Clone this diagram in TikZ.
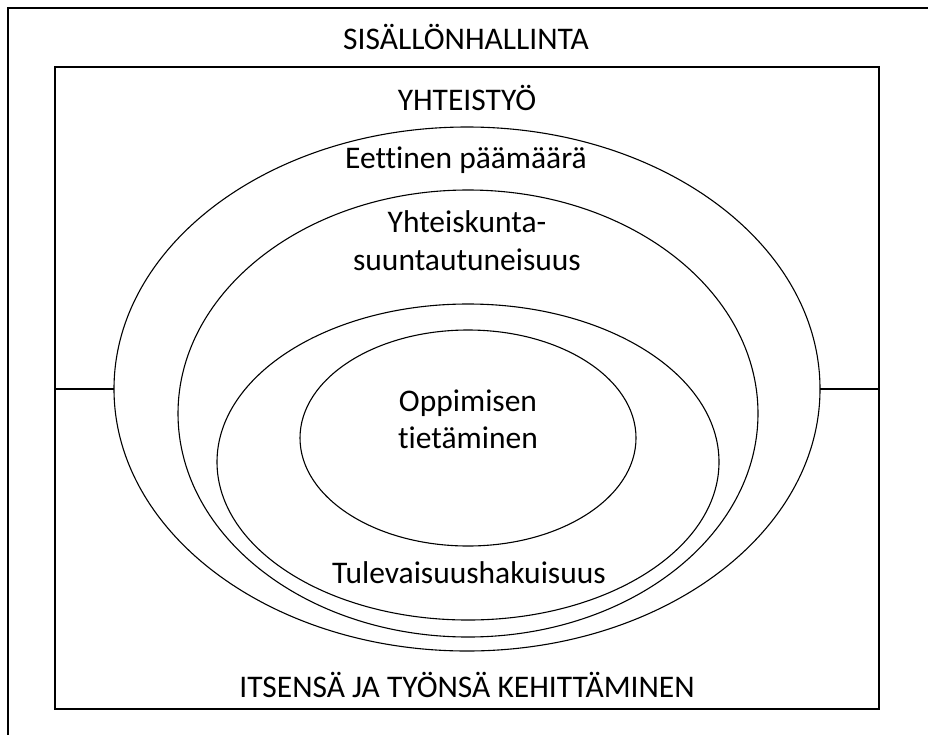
\documentclass[tikz,border=0pt]{standalone}
\usepackage{fontspec}
\setmainfont{Carlito}[Ligatures=NoCommon]
\usetikzlibrary{shapes.geometric}
\begin{document}
\begin{tikzpicture}[x=1pt,y=-1pt,
  lbl/.style={font=\fontsize{31.5}{38}\selectfont, anchor=base, inner sep=0pt},
  ring/.style={draw, ellipse, inner sep=0pt, outer sep=0pt, line width=1.1pt},
  box/.style={draw, rectangle, inner sep=0pt, outer sep=0pt, line width=1.3pt},
  link/.style={line width=1.3pt}]
\useasboundingbox (0,0) rectangle (928,734);
\begin{scope}
\clip (0,0) rectangle (928,734);
\node[box, anchor=north west, minimum width=960pt, minimum height=760pt] (outer) at (8,8) {};
\end{scope}
\node[box, minimum width=824pt, minimum height=642pt] (inner) at (467,388) {};
\node[ring, minimum width=706pt, minimum height=524pt] (e1) at (467,389) {};
\node[ring, minimum width=580pt, minimum height=447pt] (e2) at (468,413.5) {};
\node[ring, minimum width=502pt, minimum height=316pt] (e3) at (468,462) {};
\node[ring, minimum width=336pt, minimum height=216pt] (e4) at (468,438) {};
\draw[link] (inner.west |- e1.west) -- (e1.west);
\draw[link] (e1.east) -- (inner.east |- e1.east);
\node[lbl] (t1) at (466,49) {SISÄLLÖNHALLINTA};
\node[lbl] (t2) at (467,110) {YHTEISTYÖ};
\node[lbl] (t3) at (466,168) {Eettinen päämäärä};
\node[lbl] (t4a) at (467,232) {Yhteiskunta-};
\node[lbl] (t4b) at (467,270) {suuntautuneisuus};
\node[lbl] (t5a) at (468,411) {Oppimisen};
\node[lbl] (t5b) at (468,448) {tietäminen};
\node[lbl] (t6) at (469,583) {Tulevaisuushakuisuus};
\node[lbl] (t7) at (467,697) {ITSENSÄ JA TYÖNSÄ KEHITTÄMINEN};
\end{tikzpicture}
\end{document}
